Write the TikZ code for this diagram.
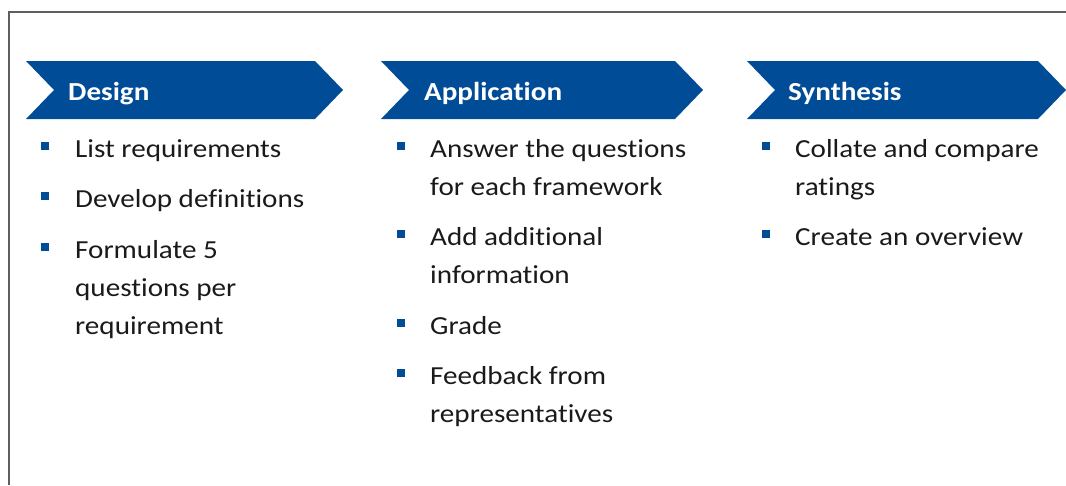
\documentclass[tikz,border=0pt]{standalone}
\usepackage{fontspec}
\setmainfont{Carlito}[FakeStretch=1.12,Ligatures={NoCommon,NoRare}]
\definecolor{chev}{HTML}{004C97}
\definecolor{txt}{HTML}{1A1A1A}
\definecolor{frame}{HTML}{5F5F5F}
\begin{document}
\begin{tikzpicture}[x=1pt,y=-1pt,
  title/.style={anchor=base west,inner sep=0pt,text=white,font=\fontsize{26}{30}\selectfont\bfseries},
  item/.style={anchor=base west,inner sep=0pt,text=txt,font=\fontsize{26}{38}\selectfont},
  bul/.style={fill=chev,draw=none,minimum size=8pt,inner sep=0pt}]
\useasboundingbox (0,0) rectangle (1066,485);
\draw[frame,line width=1.6pt] (9,485) -- (9,12) -- (1066,12);
% chevrons
\foreach \x/\w in {26/317,381/322,747/319}{
  \fill[chev] (\x,61) -- (\x+\w-28,61) -- (\x+\w,90) -- (\x+\w-28,119) -- (\x,119) -- (\x+28,90) -- cycle;
}
\node[title] (tD) at (68,100) {Design};
\node[title] (tA) at (424,100) {Application};
\node[title] (tS) at (788,100) {Synthesis};
% Design column
\node[bul] (bd1) at (44.5,146) {};
\node[item] (d1) at (75,157) {List requirements};
\node[bul] (bd2) at (44.5,196) {};
\node[item] (d2) at (75,207) {Develop definitions};
\node[bul] (bd3) at (44.5,247) {};
\node[item] (d3) at (75,258) {Formulate 5};
\node[item] (d3b) at (75,296) {questions per};
\node[item] (d3c) at (75,334) {requirement};
% Application column
\node[bul] (ba1) at (401,146) {};
\node[item] (a1) at (430,157) {Answer the questions};
\node[item] (a1b) at (430,195) {for each framework};
\node[bul] (ba2) at (401,234) {};
\node[item] (a2) at (430,245) {Add additional};
\node[item] (a2b) at (430,283) {information};
\node[bul] (ba3) at (401,323) {};
\node[item] (a3) at (430,334) {Grade};
\node[bul] (ba4) at (401,373) {};
\node[item] (a4) at (430,384) {Feedback from};
\node[item] (a4b) at (430,422) {representatives};
% Synthesis column
\node[bul] (bs1) at (766,146) {};
\node[item] (s1) at (795,157) {Collate and compare};
\node[item] (s1b) at (795,195) {ratings};
\node[bul] (bs2) at (766,234) {};
\node[item] (s2) at (795,245) {Create an overview};
\end{tikzpicture}
\end{document}
